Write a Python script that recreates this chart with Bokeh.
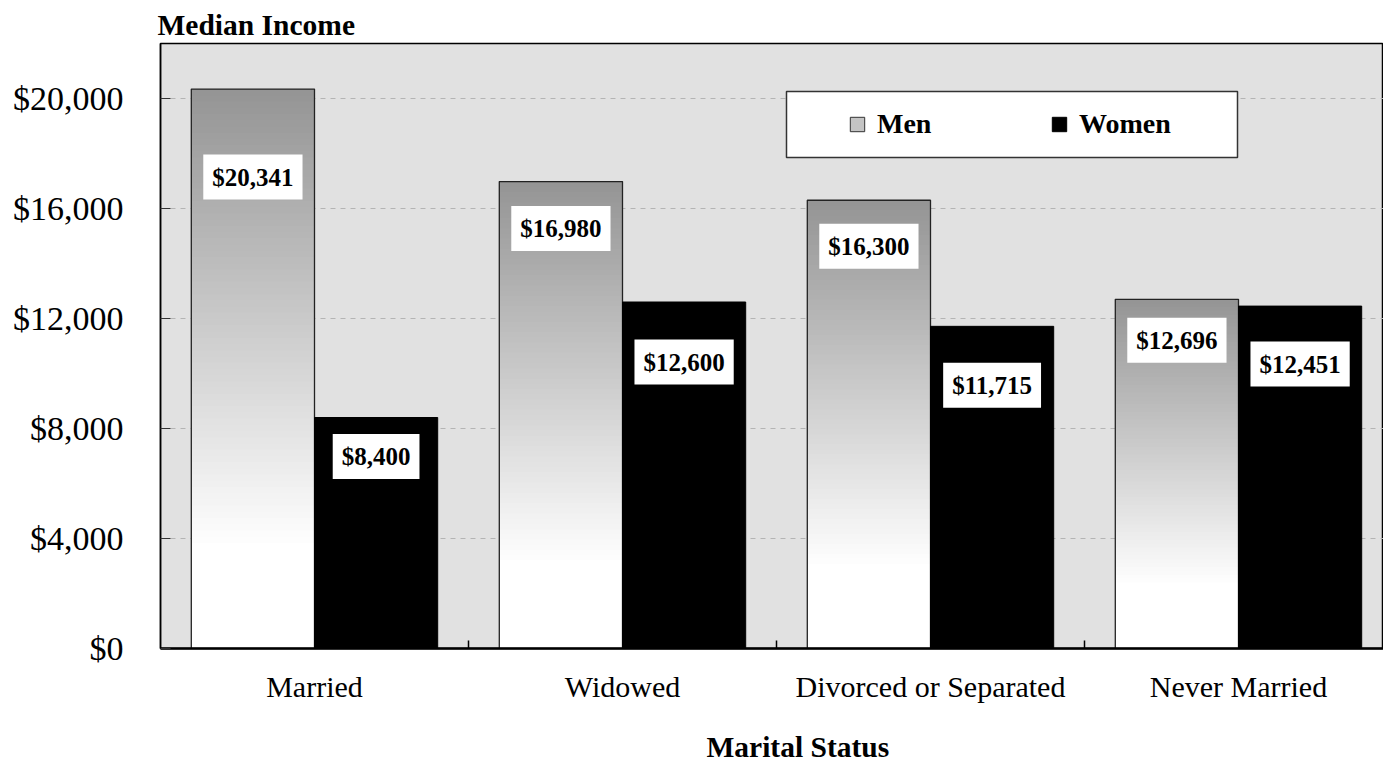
import numpy as np
from bokeh.plotting import figure
from bokeh.models import (Range1d, FixedTicker, NumeralTickFormatter, Legend, LegendItem,
                          BoxAnnotation, Title, ColumnDataSource)
from bokeh.core.properties import value
from bokeh.embed import file_html
from bokeh.resources import INLINE

# ---------------- data ----------------
categories = ["Married", "Widowed", "Divorced or Separated", "Never Married"]
men = [20341, 16980, 16300, 12696]
women = [8400, 12600, 11715, 12451]
y_ticks = [0, 4000, 8000, 12000, 16000, 20000]
x_title = "Marital Status"
y_title = "Median Income"

# ---------------- style ----------------
men_label_dy = [88, 47, 46, 41]      # px below bar top (label placement)
women_label_dy = [39, 60, 59, 58]
FONT = "Liberation Serif"
W, H = 1383, 765
GROUP_PX = 308
FRAME_LEFT = 160
BAR_W = 0.4
MEN_OFF, WOMEN_OFF = 0.3, 0.7
x_end = (W - FRAME_LEFT) / GROUP_PX
XTITLE_SHIFT = "\u00a0" * 7   # nudges the centred axis title to the right

p = figure(width=W, height=H, output_backend="svg", toolbar_location=None,
           x_range=Range1d(0, x_end), y_range=Range1d(0, 22000))
p.min_border_left = FRAME_LEFT
p.min_border_right = 0
p.min_border_top = 43
p.min_border_bottom = 117
p.background_fill_color = "#e1e1e1"
p.border_fill_color = "white"
p.outline_line_color = "black"
p.outline_line_width = 1.5

# men bars: vertical gradient built from overlapping strips
N = 90
sl, sr, sb, st, sc = [], [], [], [], []
for i, v in enumerate(men):
    cx = i + MEN_OFF
    for k in range(N):
        f = 1 - (k + 0.5) / N
        g = int(round(148 + 107 * min(1.0, f / 0.82)))
        sl.append(cx - BAR_W / 2)
        sr.append(cx + BAR_W / 2)
        sb.append(v * k / N)
        st.append(v)
        sc.append("#%02x%02x%02x" % (g, g, g))
p.quad(left=sl, right=sr, bottom=sb, top=st, fill_color=sc, line_color=None)

men_x = [i + MEN_OFF for i in range(len(categories))]
women_x = [i + WOMEN_OFF for i in range(len(categories))]
p.vbar(x=men_x, top=men, width=BAR_W, fill_alpha=0, line_color="#222222", line_width=1.3)
p.vbar(x=women_x, top=women, width=BAR_W, fill_color="black", line_color="black")

# value labels
lab_src = ColumnDataSource(dict(
    x=men_x + women_x,
    y=men + women,
    text=["$" + format(v, ",") for v in men + women],
    dy=men_label_dy + women_label_dy,
))
p.text(x="x", y="y", text="text", y_offset="dy", source=lab_src,
       text_align="center", text_baseline="middle",
       text_font=value(FONT), text_font_style="bold", text_font_size="25px",
       text_color="black", background_fill_color="white", padding=9)

# axes
p.yaxis.ticker = FixedTicker(ticks=y_ticks)
p.yaxis.formatter = NumeralTickFormatter(format="$0,0")
p.yaxis.major_label_text_font = FONT
p.yaxis.major_label_text_font_size = "34px"
p.yaxis.major_label_text_color = "black"
p.yaxis.major_label_standoff = 37
p.yaxis.major_tick_in = 10
p.yaxis.major_tick_out = 0
p.yaxis.major_tick_line_color = "#333333"
p.yaxis.minor_tick_line_color = None
p.yaxis.axis_line_color = "black"
p.yaxis.axis_line_width = 1.5

centers = [i + 0.5 for i in range(len(categories))]
p.xaxis.ticker = FixedTicker(ticks=centers, minor_ticks=[i for i in range(1, len(categories))])
p.xaxis.major_label_overrides = {c: name for c, name in zip(centers, categories)}
p.xaxis.major_label_text_font = FONT
p.xaxis.major_label_text_font_size = "30px"
p.xaxis.major_label_text_color = "black"
p.xaxis.major_label_standoff = 21
p.xaxis.major_tick_in = 0
p.xaxis.major_tick_out = 0
p.xaxis.minor_tick_in = 8
p.xaxis.minor_tick_out = 0
p.xaxis.minor_tick_line_color = "black"
p.xaxis.minor_tick_line_width = 1.5
p.xaxis.axis_line_color = "black"
p.xaxis.axis_line_width = 2.5
p.xaxis.axis_label = XTITLE_SHIFT + x_title
p.xaxis.axis_label_standoff = 25
p.xaxis.axis_label_text_font = FONT
p.xaxis.axis_label_text_font_style = "bold"
p.xaxis.axis_label_text_font_size = "29.5px"
p.xaxis.axis_label_text_color = "black"

p.xgrid.grid_line_color = None
p.ygrid.grid_line_color = "#b4b4b4"
p.ygrid.grid_line_dash = "5 5"
p.ygrid.grid_line_width = 1.2

# title
p.title = Title(text=y_title, align="left", offset=-3, standoff=5,
                text_font=FONT, text_font_style="bold", text_font_size="29.5px",
                text_color="black")

# legend
p.add_layout(BoxAnnotation(left=626, right=1077, bottom=491, top=557,
                           left_units="screen", right_units="screen",
                           top_units="screen", bottom_units="screen",
                           fill_color="white", fill_alpha=1.0,
                           line_color="#333333", line_alpha=1.0, line_width=1.5))
r_men_leg = p.vbar(x=[-1], top=[0], width=BAR_W, fill_color="#c4c4c4", line_color="#333333")
r_wom_leg = p.vbar(x=[-1], top=[0], width=BAR_W, fill_color="black", line_color="black")
legend = Legend(items=[LegendItem(label="Men", renderers=[r_men_leg]),
                       LegendItem(label="Women", renderers=[r_wom_leg])],
                location=(688, 508), orientation="horizontal",
                glyph_width=18, glyph_height=18, label_standoff=11, label_width=100,
                spacing=73, padding=0, margin=0,
                border_line_color=None, background_fill_alpha=0,
                label_text_font=FONT, label_text_font_style="bold",
                label_text_font_size="28px", label_text_color="black")
p.add_layout(legend)

open("out.html", "w").write(file_html(p, INLINE))
